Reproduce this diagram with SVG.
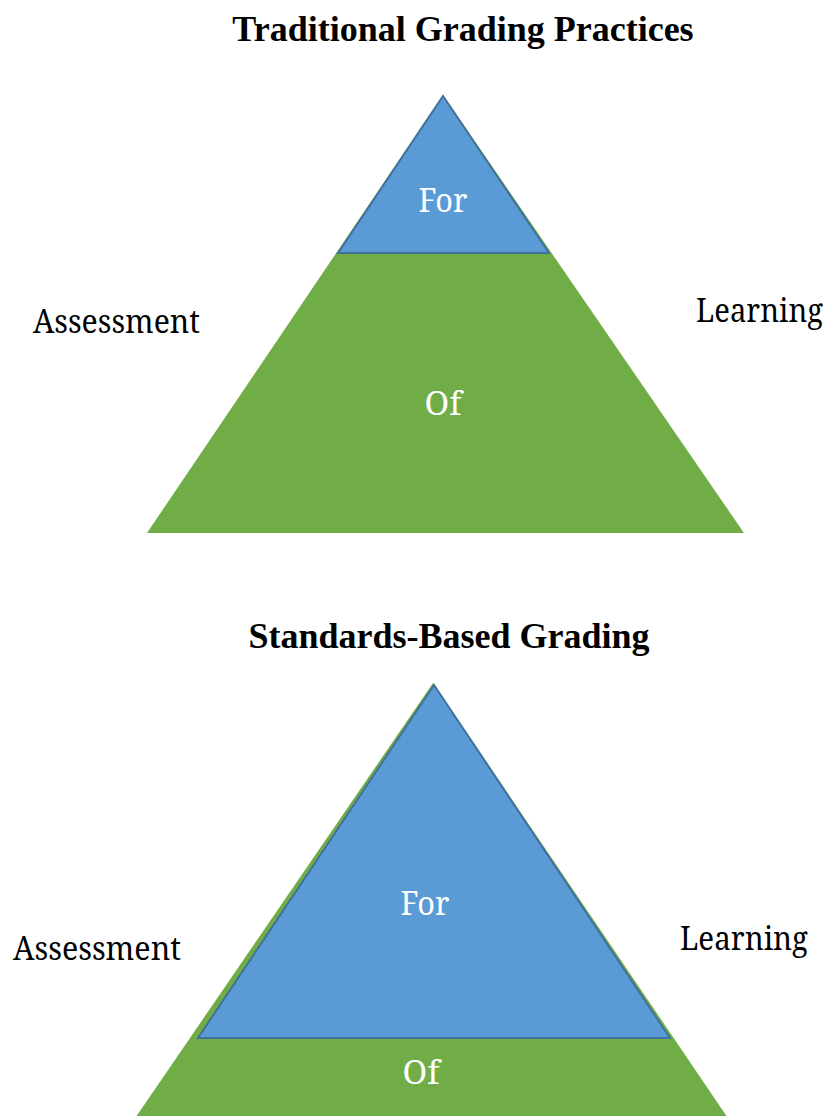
<svg xmlns="http://www.w3.org/2000/svg" width="833" height="1116" viewBox="0 0 833 1116">
<style>
.t{font-family:"Noto Serif","DejaVu Serif",serif;font-size:32px;fill:#000}
.h{font-family:"Liberation Serif",serif;font-size:36px;font-weight:bold;fill:#000}
.w{font-family:"Noto Serif","DejaVu Serif",serif;font-size:32px;fill:#fff}
.g{fill:#70AD47}
.b{fill:#5B9BD5;stroke:#41719C;stroke-width:2;stroke-linejoin:miter}
</style>
<rect width="833" height="1116" fill="#fff"/>
<g id="top-diagram">
  <text class="h" x="463" y="41" text-anchor="middle">Traditional Grading Practices</text>
  <g id="top-of"><polygon class="g" points="443,95 147,533 744,533"/>
    <text class="w" x="443" y="415" text-anchor="middle" textLength="37" lengthAdjust="spacingAndGlyphs">Of</text></g>
  <g id="top-for"><polygon class="b" points="443,96 338,253 549,253"/>
    <text class="w" x="443" y="212" text-anchor="middle" textLength="49" lengthAdjust="spacingAndGlyphs">For</text></g>
  <text class="t" x="33" y="333" textLength="167" lengthAdjust="spacingAndGlyphs">Assessment</text>
  <text class="t" x="696" y="322" textLength="127" lengthAdjust="spacingAndGlyphs">Learning</text>
</g>
<g id="bottom-diagram">
  <text class="h" x="449" y="648" text-anchor="middle">Standards-Based Grading</text>
  <g id="bottom-of"><polygon class="g" points="433,683 127,1130 736,1130"/>
    <text class="w" x="421" y="1084" text-anchor="middle" textLength="37" lengthAdjust="spacingAndGlyphs">Of</text></g>
  <g id="bottom-for"><polygon class="b" points="434,685 198,1038 670,1038"/>
    <text class="w" x="425" y="915" text-anchor="middle" textLength="49" lengthAdjust="spacingAndGlyphs">For</text></g>
  <text class="t" x="13" y="960" textLength="168" lengthAdjust="spacingAndGlyphs">Assessment</text>
  <text class="t" x="680" y="950" textLength="128" lengthAdjust="spacingAndGlyphs">Learning</text>
</g>
<g id="connectors"></g>
</svg>
